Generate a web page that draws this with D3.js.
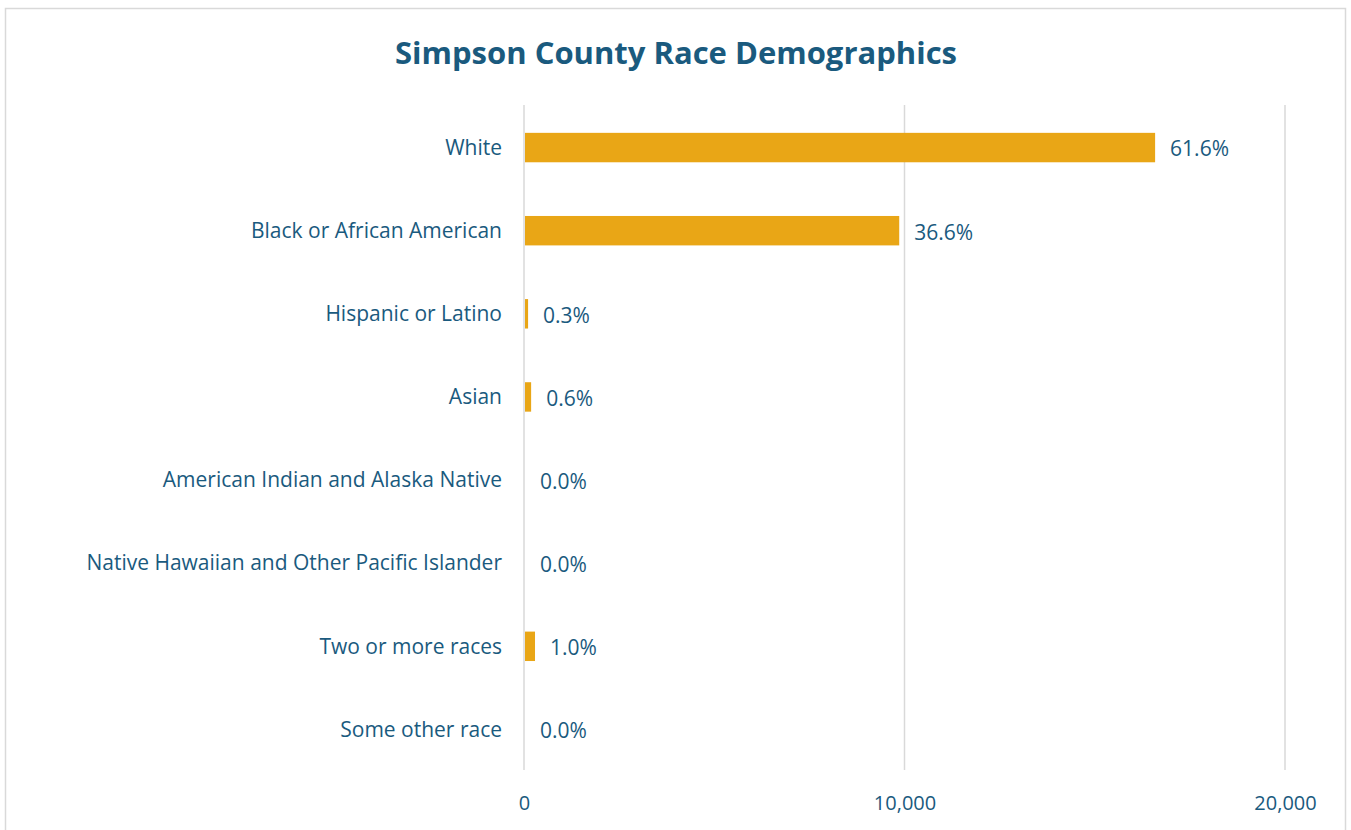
<!DOCTYPE html>
<html>
<head>
<meta charset="utf-8">
<script src="https://cdn.jsdelivr.net/npm/d3@7"></script>
<style>
  html, body { margin: 0; padding: 0; background: #ffffff; }
  svg { display: block; }
</style>
</head>
<body>
<svg id="chart" width="1351" height="830"></svg>
<script>
// Simpson County population by race (residents)
const categories = [
  "White",
  "Black or African American",
  "Hispanic or Latino",
  "Asian",
  "American Indian and Alaska Native",
  "Native Hawaiian and Other Pacific Islander",
  "Two or more races",
  "Some other race"
];
const population = [16560, 9835, 81, 161, 0, 0, 263, 0];
const xTicks = [0, 10000, 20000];

const W = 1351, H = 830;
const margin = { top: 105, right: 66, bottom: 60, left: 524 };
const textColor = "#1a5a7e";
const barColor = "#E9A616";
const gridColor = "#d9d9d9";
const font = "'Open Sans', Lato, sans-serif";

const svg = d3.select("#chart");

// chart frame
svg.append("rect")
  .attr("x", 5.5).attr("y", 8.5)
  .attr("width", W - 11).attr("height", H + 20)
  .attr("fill", "#fff").attr("stroke", gridColor).attr("stroke-width", 1.5);

const total = d3.sum(population);
const data = categories.map((c, i) => ({ cat: c, value: population[i] }));

const x = d3.scaleLinear().domain([0, 20000]).range([margin.left, W - margin.right]);
const y = d3.scaleBand().domain(categories)
  .range([margin.top, H - margin.bottom]).paddingInner(0.646).paddingOuter(0.323);

// title
svg.append("text")
  .attr("x", 676).attr("y", 64)
  .attr("text-anchor", "middle")
  .attr("font-family", font).attr("font-weight", 700)
  .attr("font-size", 31).attr("fill", textColor)
  .text("Simpson County Race Demographics");

// vertical gridlines
svg.append("g").selectAll("line").data(xTicks).join("line")
  .attr("x1", d => x(d)).attr("x2", d => x(d))
  .attr("y1", margin.top).attr("y2", H - margin.bottom)
  .attr("stroke", gridColor).attr("stroke-width", 1.5);

// x axis labels
const xAxis = d3.axisBottom(x).tickValues(xTicks).tickFormat(d3.format(",")).tickSize(0).tickPadding(0);
const gx = svg.append("g").attr("transform", `translate(0,${H - margin.bottom + 24})`).call(xAxis);
gx.select(".domain").remove();
gx.selectAll("text")
  .attr("font-family", font).attr("font-size", 20).attr("fill", textColor)
  .attr("dy", "0.8em");

// y axis labels
const yAxis = d3.axisLeft(y).tickSize(0).tickPadding(22);
const gy = svg.append("g").attr("transform", `translate(${margin.left},1.5)`).call(yAxis);
gy.select(".domain").remove();
gy.selectAll("text")
  .attr("font-family", font).attr("font-size", 21).attr("fill", textColor);

// bars
svg.append("g").selectAll("rect").data(data).join("rect")
  .attr("x", x(0) + 1)
  .attr("y", d => y(d.cat) + 1)
  .attr("width", d => Math.max(0, x(d.value) - x(0)))
  .attr("height", y.bandwidth())
  .attr("fill", barColor);

// percentage labels
const pct = d3.format(".1%");
svg.append("g").selectAll("text").data(data).join("text")
  .attr("x", d => x(d.value) + 16)
  .attr("y", d => y(d.cat) + y.bandwidth() / 2 + 2.5)
  .attr("dy", "0.35em")
  .attr("font-family", font).attr("font-size", 21).attr("fill", textColor)
  .text(d => pct(d.value / total));
</script>
</body>
</html>
